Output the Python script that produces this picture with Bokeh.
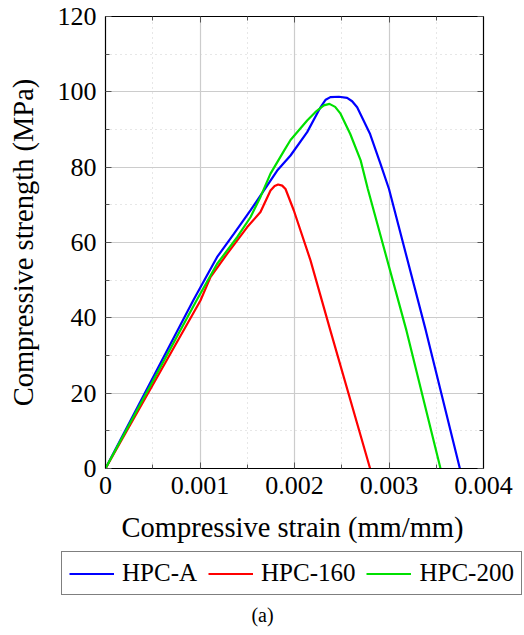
from bokeh.plotting import figure
from bokeh.models import FixedTicker, Legend, LegendItem, LinearAxis, Label, Range1d
from bokeh.embed import file_html
from bokeh.resources import INLINE

# ---- data ----
x_ticks = [0, 0.001, 0.002, 0.003, 0.004]
x_tick_labels = ["0", "0.001", "0.002", "0.003", "0.004"]
x_minor_ticks = [0.0005, 0.0015, 0.0025, 0.0035]
y_ticks = [0, 20, 40, 60, 80, 100, 120]
y_tick_labels = ["0", "20", "40", "60", "80", "100", "120"]
y_minor_ticks = [10, 30, 50, 70, 90, 110]

hpc_a_strain = [0, 0.000928, 0.001005, 0.00118, 0.001358, 0.001534, 0.001817, 0.001958,
                0.002134, 0.002275, 0.00233, 0.00238, 0.00247, 0.002557, 0.00261, 0.002663,
                0.0028, 0.00291, 0.0030, 0.00339, 0.00375]
hpc_a_stress = [0, 44.6, 48.1, 56.1, 62.3, 68.5, 79.1, 83.1,
                89.3, 95.9, 97.9, 98.6, 98.7, 98.4, 97.5, 95.9,
                88.8, 80.9, 74.2, 36.6, 0]

hpc_160_strain = [0, 0.001005, 0.001111, 0.001287, 0.0015, 0.00164, 0.001746, 0.001790,
                  0.001827, 0.001870, 0.001905, 0.001993, 0.00217, 0.00238, 0.0028]
hpc_160_stress = [0, 44.6, 50.8, 57.0, 64.1, 68.1, 73.8, 75.0,
                  75.4, 75.1, 74.2, 68.5, 55.2, 36.6, 0]

hpc_200_strain = [0, 0.000963, 0.00118, 0.001393, 0.001534, 0.00164, 0.001746, 0.00189,
                  0.001958, 0.002134, 0.00222, 0.00231, 0.00237, 0.00243, 0.002487, 0.00259,
                  0.0027, 0.002776, 0.003185, 0.003545]
hpc_200_stress = [0, 44.6, 54.3, 61.4, 66.7, 72.1, 78.3, 84.4,
                  87.2, 92.4, 94.6, 96.4, 96.8, 96.0, 94.2, 88.8,
                  81.8, 74.2, 36.6, 0]

series_names = ["HPC-A", "HPC-160", "HPC-200"]
series_colors = ["#0000ff", "#ff0000", "#00e000"]
x_label = "Compressive strain (mm/mm)"
y_label = "Compressive strength (MPa)"
caption_text = "(a)"

FONT = "Liberation Serif"

# ---- main plot ----
p = figure(width=524, height=510, output_backend="svg", toolbar_location=None,
           x_range=Range1d(0, 0.004), y_range=Range1d(0, 120),
           min_border_left=105, min_border_top=16, min_border_right=41, min_border_bottom=42)

p.outline_line_color = "black"
p.outline_line_width = 1.2

series = [(hpc_a_strain, hpc_a_stress), (hpc_160_strain, hpc_160_stress),
          (hpc_200_strain, hpc_200_stress)]
for (xs, ys), c in zip(series, series_colors):
    p.line(xs, ys, line_color=c, line_width=2.2)

xt = FixedTicker(ticks=x_ticks, minor_ticks=x_minor_ticks)
yt = FixedTicker(ticks=y_ticks, minor_ticks=y_minor_ticks)

def style_axis(ax, show_labels):
    ax.major_tick_in = 6
    ax.major_tick_out = 0
    ax.minor_tick_in = 4
    ax.minor_tick_out = 0
    ax.major_tick_line_color = "#555555"
    ax.minor_tick_line_color = "#555555"
    ax.axis_line_color = "black"
    if show_labels:
        ax.major_label_text_font = FONT
        ax.major_label_text_font_size = "26px"
        ax.major_label_text_color = "black"
        ax.axis_label_text_font = FONT
        ax.axis_label_text_font_size = "28.5px"
        ax.axis_label_text_font_style = "normal"
        ax.axis_label_text_color = "black"
    else:
        ax.major_label_text_font_size = "0px"
        ax.major_label_text_color = None
        ax.major_label_standoff = 0

p.xaxis.ticker = xt
p.yaxis.ticker = yt
p.xaxis.major_label_overrides = dict(zip(x_ticks, x_tick_labels))
p.yaxis.major_label_overrides = dict(zip(y_ticks, y_tick_labels))
p.yaxis.axis_label = y_label
style_axis(p.xaxis[0], True)
style_axis(p.yaxis[0], True)
p.xaxis.major_label_standoff = 8
p.yaxis.major_label_standoff = 9
p.yaxis.axis_label_standoff = 16

top = LinearAxis(ticker=xt)
right = LinearAxis(ticker=yt)
style_axis(top, False)
style_axis(right, False)
p.add_layout(top, "above")
p.add_layout(right, "right")

p.xgrid.ticker = xt
p.ygrid.ticker = yt
for g in (p.xgrid[0], p.ygrid[0]):
    g.grid_line_color = "#cccccc"
    g.grid_line_width = 1.2
    g.minor_grid_line_color = "#cfcfcf"
    g.minor_grid_line_dash = "1 4"
    g.minor_grid_line_width = 1

# ---- strip below: x label, legend, caption ----
p2 = figure(width=524, height=125, output_backend="svg", toolbar_location=None,
            x_range=Range1d(0, 1), y_range=Range1d(-200, -100),
            x_axis_location=None, y_axis_location=None,
            min_border_left=0, min_border_right=0, min_border_top=0, min_border_bottom=0)
p2.outline_line_color = None
p2.grid.visible = False

key_renderers = [p2.line(xs, ys, line_color=c, line_width=2.2)
                 for (xs, ys), c in zip(series, series_colors)]

legend = Legend(items=[LegendItem(label=n, renderers=[r]) for n, r in zip(series_names, key_renderers)],
                orientation="horizontal", location=(61, 40))
legend.label_text_font = FONT
legend.label_text_font_size = "25px"
legend.label_text_color = "black"
legend.glyph_width = 45
legend.glyph_height = 25
legend.label_height = 25
legend.label_standoff = 8
legend.spacing = 11
legend.padding = 7
legend.margin = 0
legend.border_line_color = "black"
legend.border_line_width = 1
legend.background_fill_alpha = 1
p2.add_layout(legend, "center")

xl = Label(x=292, y=108, x_units="screen", y_units="screen", text=x_label,
           text_align="center", text_baseline="alphabetic", text_font=FONT,
           text_font_size="28.5px", text_color="black")
p2.add_layout(xl)

cap = Label(x=262, y=21, x_units="screen", y_units="screen", text=caption_text,
            text_align="center", text_baseline="middle", text_font=FONT,
            text_font_size="20px", text_color="black")
p2.add_layout(cap)

open("out.html", "w").write(file_html([p, p2], INLINE))
